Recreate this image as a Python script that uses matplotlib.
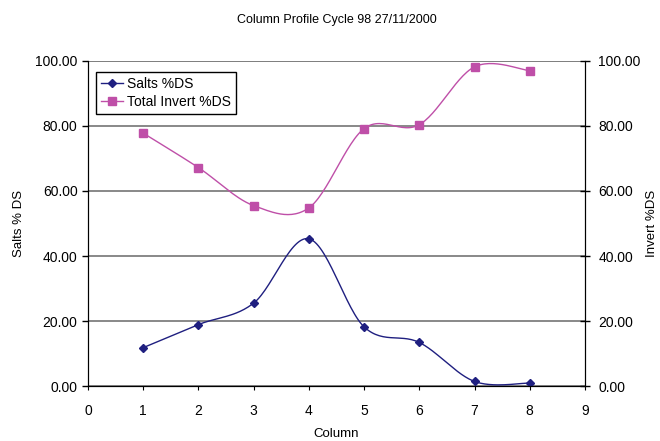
import numpy as np
import matplotlib
matplotlib.use("Agg")
import matplotlib.pyplot as plt

plt.rcParams["font.family"] = ["Liberation Sans", "DejaVu Sans"]

COLUMNS = [1, 2, 3, 4, 5, 6, 7, 8]
SALTS = [11.8, 18.9, 25.5, 45.3, 18.2, 13.4, 1.4, 0.9]
INVERT = [77.8, 67.2, 55.5, 54.8, 79.2, 80.4, 98.2, 97.0]

SALTS_COLOR = "#1F1F80"
INVERT_COLOR = "#BF4FA8"


def smooth_curve(xs, ys, steps=30):
    # Excel-style smoothing: cubic Bezier segments through every point
    xs = np.asarray(xs, float)
    ys = np.asarray(ys, float)
    n = len(xs)
    out_x, out_y = [], []
    t = np.linspace(0, 1, steps)
    for i in range(n - 1):
        p0 = np.array([xs[i], ys[i]])
        p3 = np.array([xs[i + 1], ys[i + 1]])
        prev = np.array([xs[max(i - 1, 0)], ys[max(i - 1, 0)]])
        nxt = np.array([xs[min(i + 2, n - 1)], ys[min(i + 2, n - 1)]])
        p1 = p0 + (p3 - prev) / 6
        p2 = p3 - (nxt - p0) / 6
        pts = ((1 - t) ** 3)[:, None] * p0 + (3 * (1 - t) ** 2 * t)[:, None] * p1 \
            + (3 * (1 - t) * t ** 2)[:, None] * p2 + (t ** 3)[:, None] * p3
        out_x.extend(pts[:, 0])
        out_y.extend(pts[:, 1])
    return out_x, out_y


fig = plt.figure(figsize=(6.6, 4.41), dpi=100)
ax = fig.add_axes([0.1333, 0.1247, 0.7530, 0.7370])
ax2 = ax.twinx()

for axis in (ax, ax2):
    axis.set_ylim(0, 100)
    axis.set_yticks(np.arange(0, 101, 20))
    axis.set_yticklabels([f"{v:.2f}" for v in np.arange(0, 101, 20)])
    axis.tick_params(axis="y", labelsize=10, length=4, width=1, color="black")
    axis.spines["top"].set_visible(False)
ax2.tick_params(axis="y", direction="inout", length=7, pad=6)

ax.set_xlim(0, 9)
ax.set_xticks(range(0, 10))
ax.tick_params(axis="x", labelsize=10, length=3, pad=10)
ax.grid(axis="y", color="#7F7F7F", linewidth=1.3)
ax.set_axisbelow(True)
ax.axhline(100, color="#7F7F7F", linewidth=1.3, zorder=1)

sx, sy = smooth_curve(COLUMNS, SALTS)
ix, iy = smooth_curve(COLUMNS, INVERT)
ax.plot(sx, sy, color=SALTS_COLOR, linewidth=1, zorder=3)
ax.plot(ix, iy, color=INVERT_COLOR, linewidth=1, zorder=3)
ax.plot(COLUMNS, SALTS, linestyle="none", marker="D", markersize=4, color=SALTS_COLOR, zorder=4)
ax.plot(COLUMNS, INVERT, linestyle="none", marker="s", markersize=5.5, color=INVERT_COLOR, zorder=4)

h1, = ax.plot([], [], color=SALTS_COLOR, marker="D", markersize=4, linewidth=1, label="Salts %DS")
h2, = ax.plot([], [], color=INVERT_COLOR, marker="s", markersize=5.5, linewidth=1, label="Total Invert %DS")
leg = ax.legend(handles=[h1, h2], loc="upper left", bbox_to_anchor=(0.016, 0.966),
                borderaxespad=0, fontsize=10, frameon=True, fancybox=False, framealpha=1,
                edgecolor="black", handlelength=1.6, borderpad=0.35, labelspacing=0.3,
                handletextpad=0.3)
leg.get_frame().set_linewidth(1)

ax.set_xlabel("Column", fontsize=9.5, labelpad=7)
ax.set_ylabel("Salts % DS", fontsize=9.5, labelpad=7)
ax2.set_ylabel("Invert %DS", fontsize=9.5, labelpad=4)
ax.set_title("Column Profile Cycle 98 27/11/2000", fontsize=9, pad=27)

fig.savefig("out.png", dpi=100)
